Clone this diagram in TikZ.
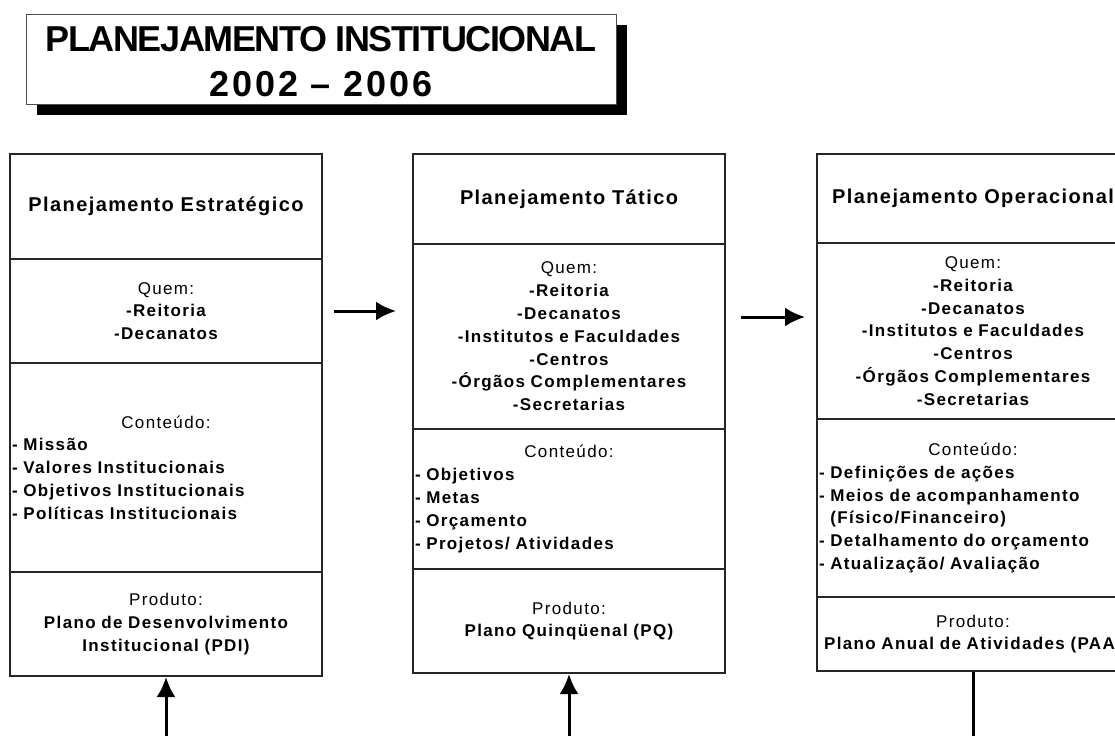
\documentclass[tikz,border=0pt]{standalone}
\usepackage{fontspec}
\setmainfont{Liberation Sans}
\newfontfamily\corpo[LetterSpace=8]{Liberation Sans}
\newfontfamily\fonttitulo[LetterSpace=7]{Liberation Sans}
\newfontfamily\fontcapa[LetterSpace=-4]{Liberation Sans}
\newfontfamily\fontano[LetterSpace=8]{Liberation Sans}
\usetikzlibrary{arrows.meta,shadows}

\tikzstyle{secao}=[draw=black!85, line width=1pt, minimum width=156pt, text width=154pt, inner sep=1pt, align=center, font=\corpo\bfseries\fontsize{8.5}{11.4}\selectfont]
\tikzstyle{lista}=[secao, align=left]
\tikzstyle{cabeca}=[secao, font=\fonttitulo\bfseries\fontsize{10}{12}\selectfont]
\tikzstyle{capa}=[draw=black!70, line width=0.5pt, fill=white, minimum width=295pt, minimum height=45pt, align=center, font=\fontcapa\bfseries\fontsize{18}{22.5}\selectfont, drop shadow={shadow xshift=5.5pt, shadow yshift=-5.5pt, fill=black, opacity=1}]
\tikzstyle{seta}=[line width=1.5pt, -{Latex[length=10pt,width=9.5pt]}]
\tikzstyle{linha}=[line width=1.5pt]

\begin{document}
\begin{tikzpicture}[x=0.5pt, y=-0.5pt]
	\clip (0,0) rectangle (1115,735);
	\node[capa] (capa) at (321,59) {\raisebox{-1.5pt}[\height][\depth]{PLANEJAMENTO INSTITUCIONAL}\\\raisebox{-1.5pt}[\height][\depth]{\fontano 2002 – 2006}};

	% estrategico
	\node[cabeca, minimum height=52.5pt] (est-tit) at (166,206.5) {Planejamento Estratégico};
	\node[secao, minimum height=52pt] (est-quem) at (166,311) {{\mdseries Quem:}\\-Reitoria\\-Decanatos};
	\node[lista, minimum height=104.5pt] (est-cont) at (166,467.5) {\makebox[\linewidth]{\mdseries Conteúdo:}\\- Missão\\- Valores Institucionais\\- Objetivos Institucionais\\- Políticas Institucionais};
	\node[secao, minimum height=52pt] (est-prod) at (166,624) {{\mdseries Produto:}\\Plano de Desenvolvimento\\Institucional (PDI)};

	% tatico
	\node[cabeca, minimum height=45pt] (tat-tit) at (569,199) {Planejamento Tático};
	\node[secao, minimum height=92.5pt] (tat-quem) at (569,336.5) {{\mdseries Quem:}\\-Reitoria\\-Decanatos\\-Institutos e Faculdades\\-Centros\\-Órgãos Complementares\\-Secretarias};
	\node[lista, minimum height=70pt] (tat-cont) at (569,499) {\makebox[\linewidth]{\mdseries Conteúdo:}\\- Objetivos\\- Metas\\- Orçamento\\- Projetos/ Atividades};
	\node[secao, minimum height=52pt] (tat-prod) at (569,621) {{\mdseries Produto:}\\Plano Quinqüenal (PQ)};

	% operacional
	\node[cabeca, minimum height=44.5pt] (ope-tit) at (973,198.5) {Planejamento Operacional};
	\node[secao, minimum height=88pt] (ope-quem) at (973,331) {{\mdseries Quem:}\\-Reitoria\\-Decanatos\\-Institutos e Faculdades\\-Centros\\-Órgãos Complementares\\-Secretarias};
	\node[lista, minimum height=89pt] (ope-cont) at (973,508) {\makebox[\linewidth]{\mdseries Conteúdo:}\\- Definições de ações\\- Meios de acompanhamento\\\hphantom{- }(Físico/Financeiro)\\- Detalhamento do orçamento\\- Atualização/ Avaliação};
	\node[secao, minimum height=37pt] (ope-prod) at (973,634) {{\mdseries Produto:}\\Plano Anual de Atividades (PAA)};

	\coordinate (est-base) at (166,745);
	\coordinate (tat-base) at (569,745);
	\coordinate (ope-base) at (973,745);

	\draw[seta, shorten <=5.5pt, shorten >=8pt] (est-quem.east) -- (est-quem.east -| tat-quem.west);
	\draw[seta, shorten <=7.5pt, shorten >=5.5pt] ([yshift=9.75pt]tat-quem.east) -- ([yshift=9.75pt]tat-quem.east -| ope-quem.west);
	\draw[seta] (est-base) -- (est-prod.south);
	\draw[seta] (tat-base) -- (tat-prod.south);
	\draw[linha] (ope-prod.south) -- (ope-base);
\end{tikzpicture}
\end{document}
